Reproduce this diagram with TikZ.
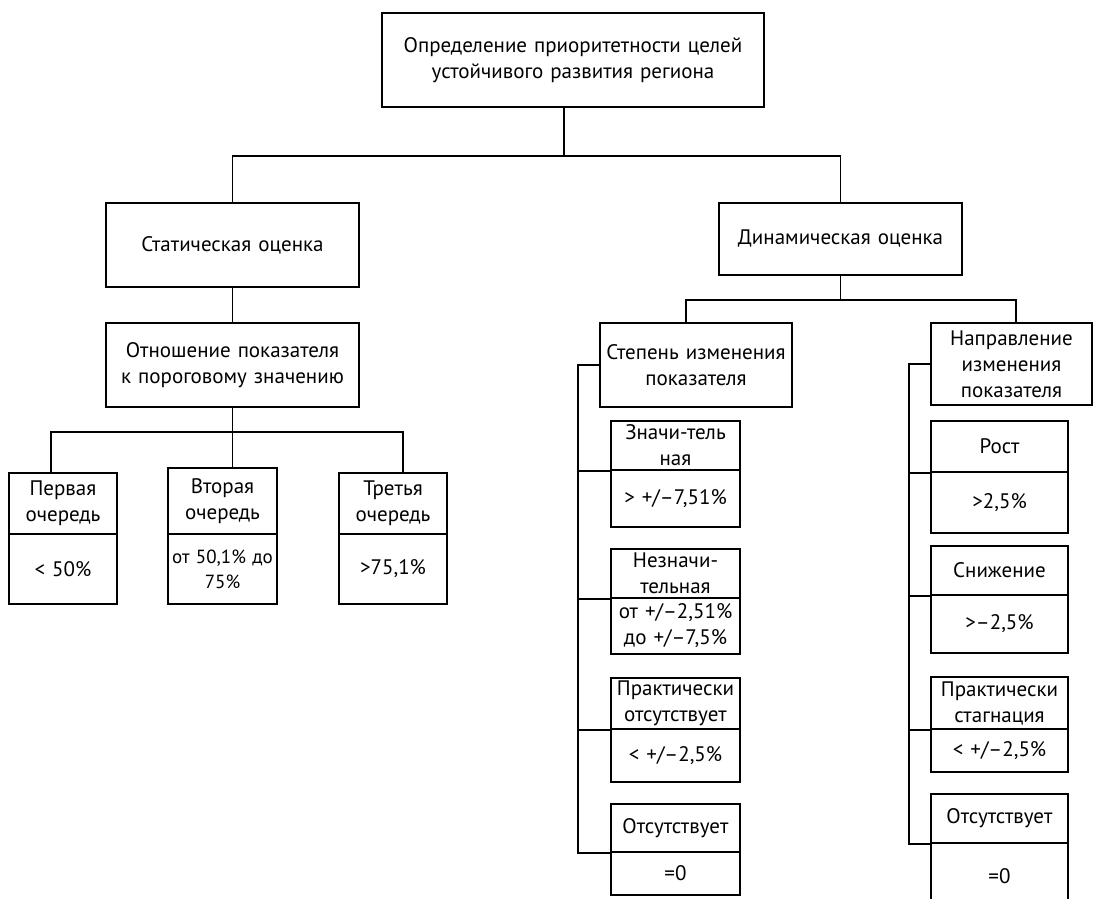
\documentclass[tikz,border=0pt]{standalone}
\usepackage{fontspec}
\setmainfont{PT Sans}

\begin{document}
\begin{tikzpicture}
  [x=1pt,y=-1pt,
   every node/.style={draw,rectangle,line width=1.8pt,inner sep=0pt,align=center,
                      font=\fontsize{21}{26}\selectfont},
   cell/.style 2 args={text width=#1,minimum height=#2},
   link/.style={line width=1.3pt},
   rail/.style={line width=1.8pt}]
  \clip (0,0) rectangle (1093,899);

  \node[cell={382pt}{94pt}] (goal) at (573,60) {Определение приоритетности целей\\устойчивого развития региона};
  \node[cell={253pt}{84pt}] (stat) at (232.5,245) {Статическая оценка};
  \node[cell={243pt}{72pt}] (dyn) at (840.5,239) {Динамическая оценка};
  \node[cell={253pt}{84pt}] (ratio) at (232.5,365) {Отношение показателя\\к пороговому значению};
  \node[cell={192pt}{84pt}] (degree) at (696,365) {Степень изменения\\показателя};
  \node[cell={161pt}{82pt}] (direct) at (1011.5,364) {Направление\\изменения\\показателя};

  % static branch
  \node[cell={108pt}{61pt}] (q1a) at (63,503.5) {Первая\\очередь};
  \node[cell={108pt}{70pt}] (q1b) at (63,569) {< 50\%};
  \node[cell={109pt}{66pt}] (q2a) at (222.5,501) {Вторая\\очередь};
  \node[cell={109pt}{70pt},font=\fontsize{19}{25}\selectfont] (q2b) at (222.5,569) {от 50,1\% до\\75\%};
  \node[cell={108pt}{61pt}] (q3a) at (393,503.5) {Третья\\очередь};
  \node[cell={108pt}{70pt}] (q3b) at (393,569) {>75,1\%};

  % degree of change
  \node[cell={129pt}{49pt}] (d1a) at (675.5,445.5) {Значи-тель\\ная};
  \node[cell={129pt}{57pt}] (d1b) at (675.5,498.5) {> +/–7,51\%};
  \node[cell={129pt}{49pt}] (d2a) at (675.5,573.5) {Незначи-\\тельная};
  \node[cell={129pt}{56pt}] (d2b) at (675.5,626) {от +/–2,51\%\\до +/–7,5\%};
  \node[cell={129pt}{51pt}] (d3a) at (675.5,703.5) {Практически\\отсутствует};
  \node[cell={129pt}{53pt}] (d3b) at (675.5,755.5) {< +/–2,5\%};
  \node[cell={129pt}{48pt}] (d4a) at (675.5,828) {Отсутствует};
  \node[cell={129pt}{43pt}] (d4b) at (675.5,873.5) {=0};

  % direction of change
  \node[cell={137pt}{51pt}] (r1a) at (999.5,446.5) {Рост};
  \node[cell={137pt}{61pt}] (r1b) at (999.5,502.5) {>2,5\%};
  \node[cell={137pt}{49pt}] (r2a) at (999.5,570.5) {Снижение};
  \node[cell={137pt}{58pt}] (r2b) at (999.5,624) {>–2,5\%};
  \node[cell={137pt}{52pt}] (r3a) at (999.5,703) {Практически\\стагнация};
  \node[cell={137pt}{43pt}] (r3b) at (999.5,750.5) {< +/–2,5\%};
  \node[cell={137pt}{49pt}] (r4a) at (999.5,818.5) {Отсутствует};
  \node[cell={137pt}{67pt}] (r4b) at (999.5,876.5) {=0};

  \draw[link] ([xshift=-9pt]goal.south) -- ++(0,48) coordinate (hub);
  \draw[link] (stat.north) |- (hub) -| (dyn.north);
  \draw[link] (stat) -- (ratio);
  \draw[link] (ratio.south) -- ++(0,24) coordinate (fork);
  \draw[link] ([xshift=-12pt]q1a.north) |- (fork) -| ([xshift=10pt]q3a.north);
  \draw[link] (fork) -- (q2a.north -| fork);
  \draw[link] (dyn.south) -- ++(0,24) coordinate (split);
  \draw[link] ([xshift=-10pt]degree.north) |- (split) -| ([xshift=4.5pt]direct.north);

  \draw[rail] (degree.west) -- ++(-21,0) coordinate (railA) |- (d4a.south west);
  \foreach \n in {d1a,d2a,d3a}
    \draw[rail] (railA |- \n.south west) -- (\n.south west);
  \draw[rail] (direct.west) -- ++(-21,0) coordinate (railB) |- (r4a.south west);
  \foreach \n in {r1a,r2a,r3a}
    \draw[rail] (railB |- \n.south west) -- (\n.south west);

\end{tikzpicture}
\end{document}
